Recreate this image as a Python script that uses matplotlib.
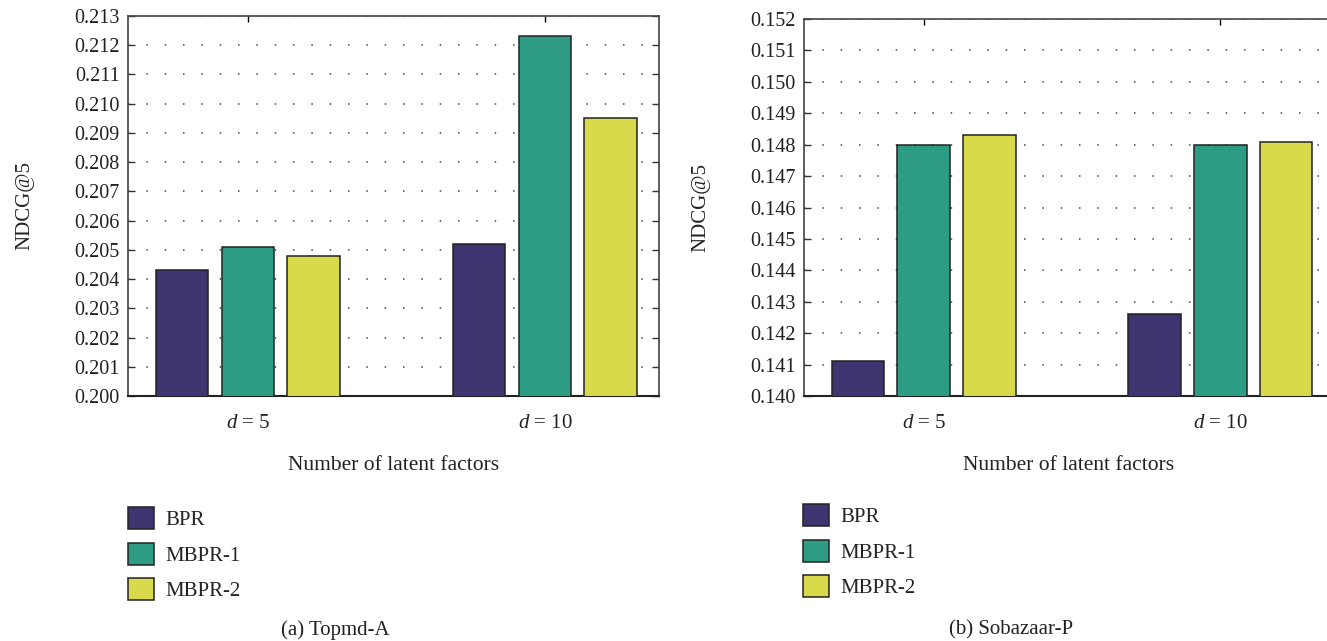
import matplotlib
matplotlib.use("Agg")
import matplotlib.pyplot as plt
from matplotlib.patches import Patch
import numpy as np

plt.rcParams['font.family'] = ['Liberation Serif', 'DejaVu Serif']
plt.rcParams['mathtext.fontset'] = 'custom'
plt.rcParams['mathtext.it'] = 'Liberation Serif:italic'
plt.rcParams['mathtext.rm'] = 'Liberation Serif'

categories = ["$d$ = 5", "$d$ = 10"]
series_names = ["BPR", "MBPR-1", "MBPR-2"]
colors = ["#3e3470", "#2e9b84", "#d8d94b"]

topmd_bpr = [0.2043, 0.2052]
topmd_mbpr1 = [0.2051, 0.2123]
topmd_mbpr2 = [0.2048, 0.2095]
topmd_ticks = [0.200, 0.201, 0.202, 0.203, 0.204, 0.205, 0.206, 0.207,
               0.208, 0.209, 0.210, 0.211, 0.212, 0.213]

soba_bpr = [0.1411, 0.1426]
soba_mbpr1 = [0.1480, 0.1480]
soba_mbpr2 = [0.1483, 0.1481]
soba_ticks = [0.140, 0.141, 0.142, 0.143, 0.144, 0.145, 0.146, 0.147,
              0.148, 0.149, 0.150, 0.151, 0.152]

W, H = 1327, 641
fig = plt.figure(figsize=(W / 100, H / 100), dpi=100)
TXT = "#222222"


def px_axes(x0, x1, ytop, ybot):
    return fig.add_axes([x0 / W, 1 - ybot / H, (x1 - x0) / W, (ybot - ytop) / H])


def draw(ax, series, ticks):
    x = np.arange(len(categories))
    step = 0.222
    width = 0.178
    for i, vals in enumerate(series):
        ax.bar(x + (i - 1) * step, vals, width, color=colors[i],
               edgecolor="#222222", linewidth=1.1, zorder=3)
    ax.set_ylim(ticks[0], ticks[-1])
    ax.set_yticks(ticks)
    ax.set_yticklabels([f"{t:.3f}" for t in ticks])
    ax.set_xlim(-0.404, 1.384)
    ax.set_xticks(x)
    ax.set_xticklabels(categories)
    ax.set_axisbelow(True)
    ax.yaxis.grid(True, linestyle=(0, (1, 11)), color="#444444", linewidth=1.1)
    ax.tick_params(axis='y', direction='in', left=True, right=True, length=5,
                   width=1.0, labelsize=14.5, pad=6, colors="#333333", labelcolor=TXT)
    ax.tick_params(axis='x', direction='in', bottom=False, top=True, length=4,
                   width=1.0, labelsize=15, pad=13, labelcolor=TXT)
    for s in ax.spines.values():
        s.set_color("#444444")
        s.set_linewidth(1.2)
    ax.spines['bottom'].set_color("#222222")
    ax.spines['bottom'].set_linewidth(1.5)
    ax.set_ylabel("NDCG@5", fontsize=15, color=TXT)
    ax.yaxis.set_label_coords(-0.176, 0.5)
    ax.set_xlabel("Number of latent factors", fontsize=15.5, color=TXT)
    ax.xaxis.set_label_coords(0.5, -0.158)


ax1 = px_axes(128, 659, 16, 396)
draw(ax1, [topmd_bpr, topmd_mbpr1, topmd_mbpr2], topmd_ticks)
ax2 = px_axes(804, 1334, 19, 396)
draw(ax2, [soba_bpr, soba_mbpr1, soba_mbpr2], soba_ticks)

handles = [Patch(facecolor=c, edgecolor="#222222", linewidth=1.1) for c in colors]
for lx, ly in ((128, 507), (803, 504)):
    fig.legend(handles, series_names, loc='upper left',
               bbox_to_anchor=(lx / W, 1 - ly / H), frameon=False,
               fontsize=15, handlelength=1.25, handleheight=1.25,
               handletextpad=0.55, labelspacing=0.6, borderpad=0,
               borderaxespad=0, labelcolor=TXT)

fig.text(335 / W, 1 - 630 / H, "(a) Topmd-A", ha='center', va='center',
         fontsize=15, color=TXT)
fig.text(1011 / W, 1 - 630 / H, "(b) Sobazaar-P", ha='center', va='center',
         fontsize=15, color=TXT)

fig.savefig("out.png", dpi=100)
